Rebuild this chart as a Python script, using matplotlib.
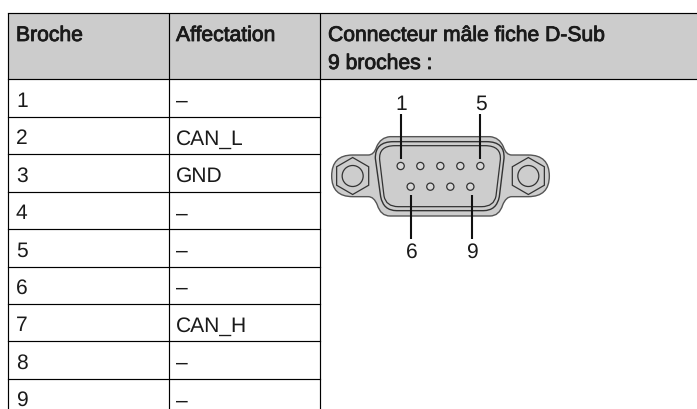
import matplotlib
matplotlib.use("Agg")
import matplotlib.pyplot as plt
import matplotlib.patheffects as pe
from matplotlib.path import Path
from matplotlib.patches import PathPatch, Circle, Rectangle, RegularPolygon

plt.rcParams['font.family'] = ['Liberation Sans', 'DejaVu Sans']
plt.rcParams['text.hinting'] = 'no_hinting'
plt.rcParams['text.hinting_factor'] = 1

W, H = 697, 409
headers = ["Broche", "Affectation", "Connecteur mâle fiche D-Sub\n9 broches :"]
pins = ["1", "2", "3", "4", "5", "6", "7", "8", "9"]
assign = ["–", "CAN_L", "GND", "–", "–", "–", "CAN_H", "–", "–"]
col_x = [7.5, 168.5, 319.5]
header_top, header_bot = 12.5, 79.0
row_lines = [116.5, 154, 191.5, 229, 266.5, 303.5, 341, 378.5]
row_h = 37.4
ink = "#1a1a1a"

fig = plt.figure(figsize=(W/100, H/100), dpi=100)
ax = fig.add_axes([0, 0, 1, 1])
ax.set_xlim(0, W); ax.set_ylim(H, 0); ax.axis("off")

ax.add_patch(Rectangle((col_x[0], header_top), W-col_x[0], header_bot-header_top, fc="#cccccc", ec="none"))
for x in col_x:
    ax.plot([x, x], [header_top, H], color="black", lw=0.85, solid_capstyle="butt")
ax.plot([col_x[0], W], [header_top]*2, color="black", lw=0.85)
ax.plot([col_x[0], W], [header_bot]*2, color="black", lw=0.85)
for y in row_lines:
    ax.plot([col_x[0], col_x[2]], [y, y], color="black", lw=0.85)

fs = 15.2
bold = [pe.withStroke(linewidth=0.6, foreground=ink)]
ax.text(16, 41, headers[0], fontsize=fs, color=ink, va="baseline", path_effects=bold)
ax.text(176, 41, headers[1], fontsize=fs, color=ink, va="baseline", path_effects=bold)
l1, l2 = headers[2].split("\n")
ax.text(328, 41, l1, fontsize=fs, color=ink, va="baseline", path_effects=bold)
ax.text(328, 69, l2, fontsize=fs, color=ink, va="baseline", path_effects=bold)
for i, (p, a) in enumerate(zip(pins, assign)):
    base = 107 + i*row_h
    ax.text(16, base, p, fontsize=fs, color=ink, va="baseline", clip_on=True)
    ax.text(176, base, a, fontsize=fs, color=ink, va="baseline", clip_on=True)

# connector drawing, zoom-crop coordinates
def Z(x, y):
    return (340 + x/3, 90 + y/3)

def bez(pts, closed=True):
    verts = [Z(*pts[0])]; codes = [Path.MOVETO]
    for seg in pts[1:]:
        if len(seg) == 2:
            verts.append(Z(*seg)); codes.append(Path.LINETO)
        else:
            verts += [Z(seg[0], seg[1]), Z(seg[2], seg[3])]; codes += [Path.CURVE3, Path.CURVE3]
    if closed:
        verts.append(verts[0]); codes.append(Path.CLOSEPOLY)
    return Path(verts, codes)

edge = "#555555"
body = [(150, 140), (450, 140), (478, 142, 490, 170), (498, 195, 515, 195), (565, 195),
        (628, 195, 628, 258), (628, 320, 565, 320), (515, 320), (498, 320, 488, 345), (478, 378, 450, 378),
        (150, 378), (122, 378, 112, 345), (102, 320, 85, 320), (38, 320), (-25, 320, -25, 258),
        (-25, 195, 38, 195), (85, 195), (102, 195, 110, 170), (122, 142, 150, 140)]
ax.add_patch(PathPatch(bez(body), fc="#cdcdcd", ec=edge, lw=1.0))
d1 = [(160, 155), (440, 155), (495, 155, 492, 205), (478, 320), (470, 362, 430, 362),
      (170, 362), (130, 362, 122, 320), (106, 205), (105, 155, 160, 155)]
d2 = [(165, 167), (435, 167), (485, 167, 481, 210), (468, 318), (462, 350, 425, 350),
      (175, 350), (138, 350, 132, 318), (119, 210), (115, 167, 165, 167)]
ax.add_patch(PathPatch(bez(d1), fc="none", ec="#333333", lw=1.0))
ax.add_patch(PathPatch(bez(d2), fc="none", ec="#333333", lw=0.9))

for cx in (38, 565):
    c = Z(cx, 258)
    ax.add_patch(RegularPolygon(c, 6, radius=18.5, fc="none", ec="#333333", lw=0.9))
    ax.add_patch(Circle(c, 10.5, fc="none", ec="#333333", lw=0.9))

top_pin_x = [182, 241, 301, 361, 421]
bot_pin_x = [212, 271, 331, 391]
for xs, y in ((top_pin_x, 228), (bot_pin_x, 290)):
    for x in xs:
        ax.add_patch(Circle(Z(x, y), 3.6, fc="#d8d8d8", ec="#333333", lw=0.9))

def leader(x, y0, y1):
    a, b = Z(x, y0), Z(x, y1)
    ax.plot([a[0], b[0]], [a[1], b[1]], color="#111111", lw=1.5, solid_capstyle="butt")
leader(183, 72, 208); leader(421, 72, 208)
leader(213, 314, 447); leader(397, 314, 447)
for t, x, y in (("1", 183, 60), ("5", 422, 60), ("6", 214, 504), ("9", 397, 504)):
    px, py = Z(x, y)
    ax.text(px, py, t, fontsize=fs, color=ink, ha="center", va="baseline")

fig.savefig("out.png", dpi=100)
